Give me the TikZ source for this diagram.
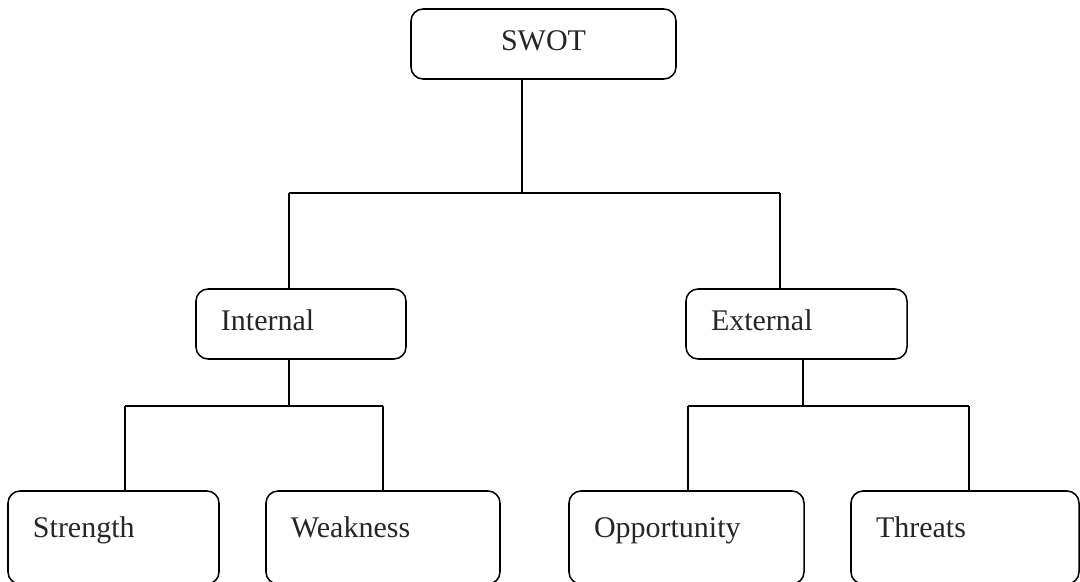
\documentclass[tikz,border=0pt]{standalone}
\usepackage{fontspec}
\setmainfont{Liberation Serif}
\usetikzlibrary{calc,positioning}

\begin{document}
\begin{tikzpicture}
  [x=0.03cm,y=-0.03cm,line width=1.3pt,
   box/.style={draw,rounded corners=0.36cm,inner xsep=0.75cm,inner ysep=0pt,
     font=\fontsize{25.6}{30}\selectfont,text=black!85,align=left},
   topbox/.style={box,minimum height=2.1cm,text height=0.66cm,text depth=0.3cm},
   leafbox/.style={box,minimum height=2.79cm,text height=0.66cm,text depth=0.66cm}]
  \clip (0,0) rectangle (1080,581);
  \node[topbox,align=center,text width=6.45cm] (swot) at (543.5,44) {SWOT};
  \node[topbox,text width=4.8cm] (int) at (301,324) {Internal};
  \node[topbox,text width=5.13cm] (ext) at (796.5,324) {External};
  \node[leafbox,text width=4.83cm] (str) at (113.5,537.5) {Strength};
  \node[leafbox,text width=5.52cm] (weak) at (383,537.5) {Weakness};
  \node[leafbox,text width=5.55cm] (opp) at (686.5,537.5) {Opportunity};
  \node[leafbox,text width=5.34cm] (thr) at (965,537.5) {Threats};

  \coordinate (j0) at (522,193);
  \coordinate (j0l) at (289,193);
  \coordinate (j0r) at (780,193);
  \coordinate (j1) at (289,406);
  \coordinate (j1l) at (125,406);
  \coordinate (j1r) at (383,406);
  \coordinate (j2) at (803,406);
  \coordinate (j2l) at (688,406);
  \coordinate (j2r) at (969,406);

  \foreach \up/\j in {swot/j0,int/j1,ext/j2}
    \draw (\j |- \up.south) -- (\j);
  \foreach \l/\r in {j0l/j0r,j1l/j1r,j2l/j2r}
    \draw (\l) -- (\r);
  \foreach \from/\to in {j0l/int,j0r/ext,j1l/str,j1r/weak,j2l/opp,j2r/thr}
    \draw (\from) -- (\from |- \to.north);
\end{tikzpicture}
\end{document}
